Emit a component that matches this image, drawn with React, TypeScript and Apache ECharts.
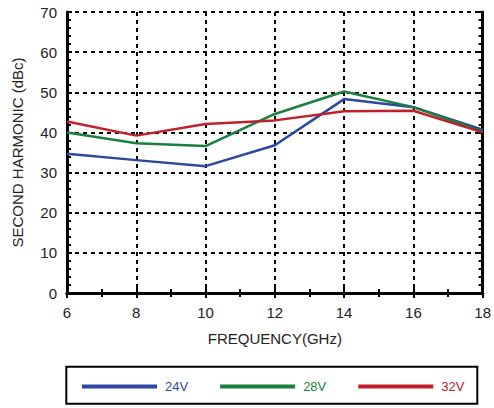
import React, { useEffect, useRef } from "react";
import * as echarts from "echarts";

const freqs = [6, 8, 10, 12, 14, 16, 18];
const v24 = [34.7, 33.1, 31.6, 36.8, 48.3, 46.3, 40.7];
const v28 = [40.0, 37.3, 36.6, 44.6, 50.2, 46.3, 40.2];
const v32 = [42.7, 39.2, 42.1, 43.0, 45.3, 45.4, 40.0];
const seriesNames = ["24V", "28V", "32V"];
const seriesColors = ["#2c47a0", "#1a7f3f", "#c1202b"];

const FONT = "'Liberation Sans', Arial, Helvetica, sans-serif";

export default function App() {
  const ref = useRef<HTMLDivElement>(null);
  useEffect(() => {
    if (!ref.current) return;
    const chart = echarts.init(ref.current, null, { renderer: "svg" });
    const values = [v24, v28, v32];
    const grid = { left: 67, right: 10, top: 12, bottom: 115 };
    const axisLine = { show: true, lineStyle: { color: "#000", width: 3 } };
    const splitLine = { show: true, lineStyle: { color: "#000", width: 2, type: [4, 4] as any } };
    const labelStyle = { color: "#222", fontSize: 15, fontFamily: FONT };
    chart.setOption({
      animation: false,
      backgroundColor: "#fff",
      grid,
      xAxis: [
        {
          type: "value",
          min: 6,
          max: 18,
          interval: 2,
          position: "bottom",
          axisLine,
          axisTick: { show: true, inside: true, length: 5, lineStyle: { color: "#000", width: 2 } },
          minorTick: { show: true, splitNumber: 2, length: 4, lineStyle: { color: "#000", width: 2 } },
          splitLine,
          axisLabel: { ...labelStyle, margin: 12 },
          name: "FREQUENCY(GHz)",
          nameLocation: "middle",
          nameGap: 38,
          nameTextStyle: { color: "#222", fontSize: 15, fontFamily: FONT },
        },
        {
          type: "value",
          min: 6,
          max: 18,
          interval: 2,
          position: "top",
          axisLine,
          axisTick: { show: true, inside: true, length: 5, lineStyle: { color: "#000", width: 2 } },
          minorTick: { show: true, splitNumber: 2, length: 4, lineStyle: { color: "#000", width: 2 } },
          splitLine: { show: false },
          axisLabel: { show: false },
        },
      ],
      yAxis: [
        {
          type: "value",
          min: 0,
          max: 70,
          interval: 10,
          position: "left",
          axisLine,
          axisTick: { show: true, inside: true, length: 5, lineStyle: { color: "#000", width: 2 } },
          minorTick: { show: true, splitNumber: 5, length: 4, lineStyle: { color: "#000", width: 2 } },
          splitLine,
          axisLabel: { ...labelStyle, margin: 10 },
          name: "SECOND HARMONIC (dBc)",
          nameLocation: "middle",
          nameGap: 42,
          nameRotate: 90,
          nameTextStyle: { color: "#222", fontSize: 15, fontFamily: FONT },
        },
        {
          type: "value",
          min: 0,
          max: 70,
          interval: 10,
          position: "right",
          axisLine,
          axisTick: { show: true, inside: true, length: 5, lineStyle: { color: "#000", width: 2 } },
          minorTick: { show: true, splitNumber: 5, length: 4, lineStyle: { color: "#000", width: 2 } },
          splitLine: { show: false },
          axisLabel: { show: false },
        },
      ],
      legend: {
        left: 82,
        top: 380,
        icon: "rect",
        itemWidth: 75,
        itemHeight: 4,
        itemGap: 32,
        padding: 0,
        textStyle: { fontSize: 13, fontFamily: FONT, padding: [0, 0, 0, 3] },
        data: seriesNames.map((n, i) => ({ name: n, textStyle: { color: seriesColors[i] } })),
      },
      graphic: [
        {
          type: "rect",
          shape: { x: 66.3, y: 366.7, width: 411, height: 37 },
          style: { fill: "none", stroke: "#000", lineWidth: 2 },
          silent: true,
        },
      ],
      series: seriesNames.map((n, i) => ({
        name: n,
        type: "line",
        xAxisIndex: 0,
        yAxisIndex: 0,
        data: freqs.map((f, j) => [f, values[i][j]]),
        showSymbol: false,
        symbol: "none",
        lineStyle: { color: seriesColors[i], width: 2.5 },
        itemStyle: { color: seriesColors[i] },
      })),
    });
    return () => chart.dispose();
  }, []);
  return (
    <div
      ref={ref}
      style={{ position: "absolute", left: 0, top: 0, width: 494, height: 408 }}
    />
  );
}
